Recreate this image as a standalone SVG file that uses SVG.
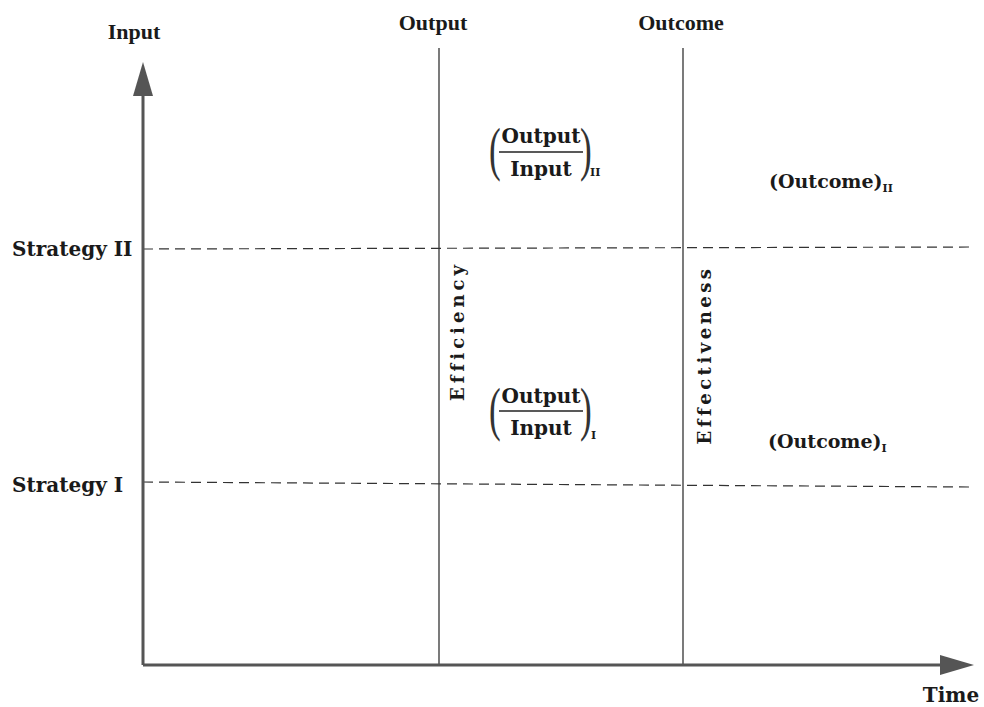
<svg xmlns="http://www.w3.org/2000/svg" width="984" height="707" viewBox="0 0 984 707">
<defs>
<style>
.t{font-family:"DejaVu Serif","Liberation Serif",serif;font-weight:bold;fill:#1a1a1a;}
.c{font-family:"Liberation Serif","DejaVu Serif",serif;font-weight:bold;fill:#1a1a1a;}
.ax{stroke:#555;stroke-width:3;fill:none;}
.v{stroke:#333;stroke-width:1.3;fill:none;}
.d{stroke:#333;stroke-width:1.2;stroke-dasharray:10,6;fill:none;}
.p{font-family:"Liberation Serif","DejaVu Serif",serif;font-weight:normal;fill:#333;}
</style>
</defs>
<rect width="984" height="707" fill="#fff"/>
<g id="connectors">
<line class="d" x1="143" y1="249" x2="972" y2="247"/>
<line class="d" x1="143" y1="482" x2="972" y2="487"/>
<line class="v" x1="439" y1="48" x2="439" y2="665"/>
<line class="v" x1="683" y1="48" x2="683" y2="665"/>
<line class="ax" x1="143" y1="665" x2="143" y2="90"/>
<path d="M143,62 L133,96 L153,96 Z" fill="#555"/>
<line class="ax" x1="143" y1="665" x2="945" y2="665"/>
<path d="M974,665 L940,655 L940,675 Z" fill="#555"/>
</g>
<g id="input-label"><text class="c" x="134" y="39" font-size="22" text-anchor="middle">Input</text></g>
<g id="output-label"><text class="c" x="433" y="30" font-size="22" text-anchor="middle">Output</text></g>
<g id="outcome-label"><text class="c" x="681" y="30" font-size="22" text-anchor="middle">Outcome</text></g>
<g id="time-label"><text class="t" x="951" y="702" font-size="20" text-anchor="middle">Time</text></g>
<g id="strategy2"><text class="t" x="12" y="256" font-size="20">Strategy II</text></g>
<g id="strategy1"><text class="t" x="12" y="492" font-size="20">Strategy I</text></g>
<g id="efficiency"><text class="t" transform="translate(464,331) rotate(-90)" font-size="18" text-anchor="middle" letter-spacing="4">Efficiency</text></g>
<g id="effectiveness"><text class="t" transform="translate(711,355) rotate(-90)" font-size="18" text-anchor="middle" letter-spacing="3.5">Effectiveness</text></g>
<g id="ratio2">
<text class="p" transform="translate(489,169) scale(0.8,1.35)" font-size="44">(</text>
<text class="t" x="541" y="143" font-size="20" text-anchor="middle">Output</text>
<line x1="499" y1="152" x2="583" y2="152" stroke="#222" stroke-width="1.5"/>
<text class="t" x="541" y="176" font-size="20" text-anchor="middle">Input</text>
<text class="p" transform="translate(580,169) scale(0.8,1.35)" font-size="44">)</text>
<text class="t" x="590" y="176" font-size="11">II</text>
</g>
<g id="ratio1">
<text class="p" transform="translate(489,429) scale(0.8,1.35)" font-size="44">(</text>
<text class="t" x="541" y="403" font-size="20" text-anchor="middle">Output</text>
<line x1="499" y1="411" x2="583" y2="411" stroke="#222" stroke-width="1.5"/>
<text class="t" x="541" y="435" font-size="20" text-anchor="middle">Input</text>
<text class="p" transform="translate(580,429) scale(0.8,1.35)" font-size="44">)</text>
<text class="t" x="591" y="439" font-size="11">I</text>
</g>
<g id="outcome2"><text class="t" x="769" y="188" font-size="19">(Outcome)<tspan font-size="11" dy="4">II</tspan></text></g>
<g id="outcome1"><text class="t" x="768" y="448" font-size="19">(Outcome)<tspan font-size="11" dy="4">I</tspan></text></g>
</svg>
